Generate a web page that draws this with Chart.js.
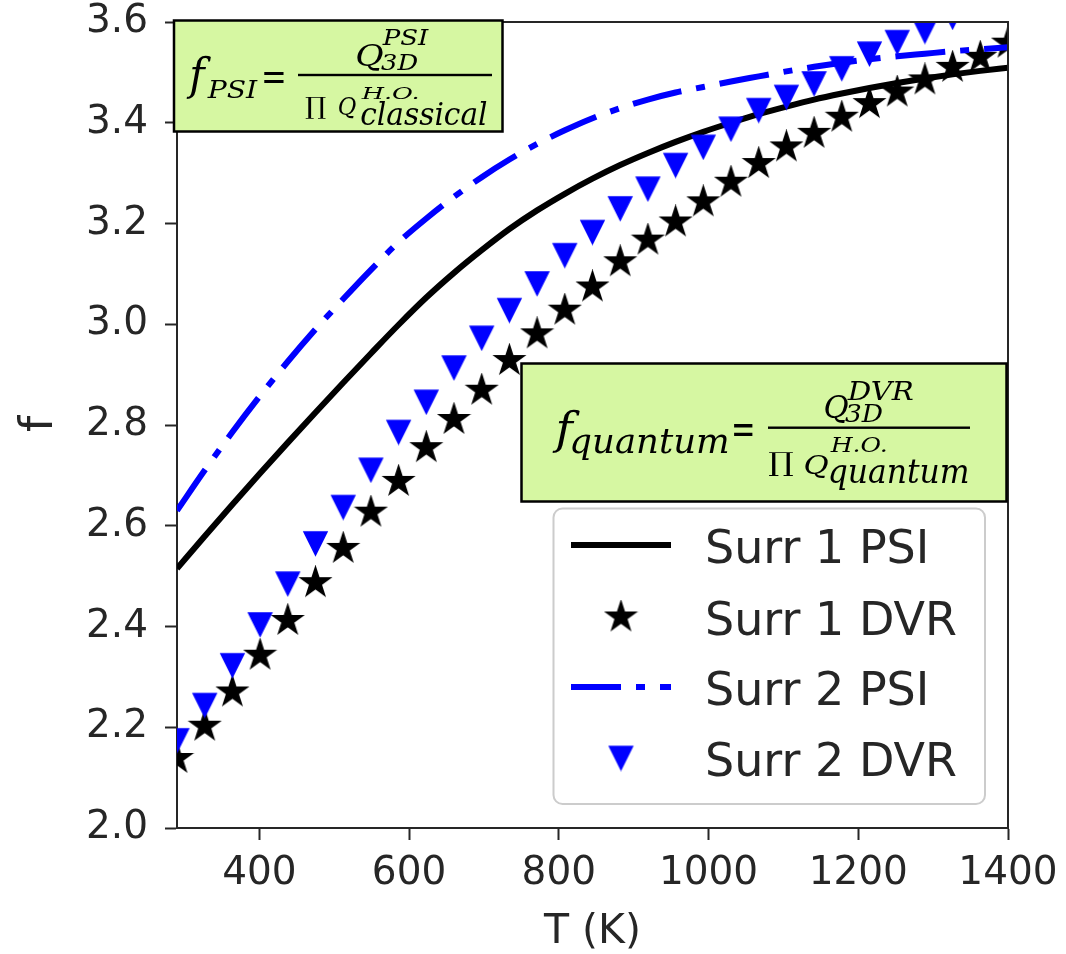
<!DOCTYPE html>
<html>
<head>
<meta charset="utf-8">
<title>f vs T</title>
<script src="https://cdn.jsdelivr.net/npm/chart.js@4"></script>
<style>
  html, body { margin: 0; padding: 0; background: #fff; }
</style>
</head>
<body>
<canvas id="myChart" width="1066" height="954"></canvas>
<script>
// temperatures (K)
const T = [290, 327, 364, 401, 438, 475, 512, 549, 586, 623, 660, 697, 734, 771, 808, 845,
           882, 919, 956, 993, 1030, 1067, 1104, 1141, 1178, 1215, 1252, 1289, 1326, 1363, 1400];

const surr1Psi = [2.515, 2.579, 2.642, 2.704, 2.765, 2.825, 2.884, 2.942, 2.999, 3.053, 3.102,
                  3.147, 3.189, 3.226, 3.259, 3.289, 3.316, 3.340, 3.362, 3.382, 3.400, 3.417,
                  3.432, 3.446, 3.458, 3.469, 3.479, 3.488, 3.496, 3.503, 3.509];
const surr1Dvr = [2.138, 2.202, 2.270, 2.343, 2.412, 2.487, 2.555, 2.627, 2.688, 2.755, 2.811,
                  2.869, 2.928, 2.981, 3.028, 3.074, 3.124, 3.167, 3.203, 3.243, 3.282, 3.319,
                  3.352, 3.379, 3.411, 3.438, 3.461, 3.485, 3.51, 3.53, 3.558];
const surr2Psi = [2.63, 2.71, 2.786, 2.858, 2.926, 2.99, 3.05, 3.108, 3.163, 3.21, 3.253,
                  3.292, 3.327, 3.358, 3.385, 3.409, 3.429, 3.446, 3.46, 3.471, 3.482, 3.492,
                  3.502, 3.511, 3.519, 3.526, 3.532, 3.537, 3.542, 3.546, 3.55];
const surr2Dvr = [2.174, 2.244, 2.323, 2.404, 2.485, 2.565, 2.637, 2.711, 2.786, 2.846, 2.914,
                  2.973, 3.028, 3.081, 3.137, 3.183, 3.23, 3.269, 3.316, 3.352, 3.388, 3.425,
                  3.451, 3.478, 3.508, 3.537, 3.56, 3.582, 3.61, 3.635, 3.655];

const seriesNames = ['Surr 1 PSI', 'Surr 1 DVR', 'Surr 2 PSI', 'Surr 2 DVR'];
const xTicks = [400, 600, 800, 1000, 1200, 1400];
const yTicks = [2.0, 2.2, 2.4, 2.6, 2.8, 3.0, 3.2, 3.4, 3.6];

const INK = '#262626';
const BLUE = '#0000ff';
const DASHDOT = [50, 15, 9, 15];

// filled 5-point star, like matplotlib's '*'
function makeStar(r, color) {
  const c = document.createElement('canvas');
  const s = Math.ceil(2 * r + 4);
  c.width = s; c.height = s;
  const g = c.getContext('2d');
  g.translate(s / 2, s / 2);
  g.beginPath();
  for (let k = 0; k < 10; k++) {
    const a = -Math.PI / 2 + k * Math.PI / 5;
    const rr = k % 2 ? r * 0.382 : r;
    g.lineTo(Math.cos(a) * rr, Math.sin(a) * rr);
  }
  g.closePath();
  g.fillStyle = color; g.fill();
  g.lineWidth = 1.5; g.strokeStyle = color; g.stroke();
  return c;
}

// downward triangle whose bounding box is centred on the point ('v')
function makeTriDown(h, color) {
  const c = document.createElement('canvas');
  const s = Math.ceil(2 * h + 4);
  c.width = s; c.height = s;
  const g = c.getContext('2d');
  g.translate(s / 2, s / 2);
  g.beginPath();
  g.moveTo(-h, -h); g.lineTo(h, -h); g.lineTo(0, h);
  g.closePath();
  g.fillStyle = color; g.fill();
  g.lineWidth = 1.5; g.strokeStyle = color; g.stroke();
  return c;
}

const starImg = makeStar(15.5, '#000');
const triImg = makeTriDown(11.5, BLUE);

const pts = arr => T.map((t, i) => ({ x: t, y: arr[i] }));

// draw text so its ink fills the given rectangle
function inkText(ctx, text, x0, y0, x1, y1, font) {
  ctx.save();
  ctx.font = font;
  ctx.textBaseline = 'alphabetic';
  ctx.textAlign = 'left';
  const m = ctx.measureText(text);
  const w = m.actualBoundingBoxLeft + m.actualBoundingBoxRight;
  const h = m.actualBoundingBoxAscent + m.actualBoundingBoxDescent;
  const sx = (x1 - x0) / w, sy = (y1 - y0) / h;
  ctx.translate(x0 + m.actualBoundingBoxLeft * sx, y0 + m.actualBoundingBoxAscent * sy);
  ctx.scale(sx, sy);
  ctx.fillStyle = '#000';
  ctx.fillText(text, 0, 0);
  ctx.restore();
}

const IT = 'italic 40px "DejaVu Serif"';
const RM = '40px "DejaVu Serif"';

function formulaBox(ctx, box, parts, bar) {
  ctx.save();
  ctx.fillStyle = '#d6f7a2';
  ctx.fillRect(box[0], box[1], box[2] - box[0], box[3] - box[1]);
  ctx.lineWidth = 2.5;
  ctx.strokeStyle = '#000';
  ctx.strokeRect(box[0], box[1], box[2] - box[0], box[3] - box[1]);
  ctx.fillStyle = '#000';
  ctx.fillRect(bar[0], bar[2] - 1.2, bar[1] - bar[0], 2.4);
  ctx.restore();
  parts.forEach(p => inkText(ctx, p[0], p[1], p[2], p[3], p[4], p[5] || IT));
}

const overlay = {
  id: 'overlay',
  afterDatasetsDraw(chart) {
    const { ctx, chartArea: a } = chart;

    // remaining spines
    ctx.save();
    ctx.strokeStyle = INK;
    ctx.lineWidth = 2;
    ctx.beginPath();
    ctx.moveTo(a.left, a.top); ctx.lineTo(a.right, a.top); ctx.lineTo(a.right, a.bottom);
    ctx.stroke();
    ctx.restore();

    formulaBox(ctx, [174, 20.5, 502.5, 131.5], [
      ['f', 186, 58, 211, 99],
      ['PSI', 207, 81, 258, 99],
      ['=', 264, 72, 284, 83, RM],
      ['Q', 357, 43, 383, 70],
      ['PSI', 382, 29, 429, 46],
      ['3D', 381, 54, 418, 71],
      ['\u220F', 306, 97, 326, 119, RM],
      ['Q', 339, 97, 356, 119],
      ['H.O.', 361, 86, 418, 99],
      ['classical', 361, 101, 487, 126]
    ], [298, 492, 75]);

    formulaBox(ctx, [521.5, 363.5, 1006.5, 501.5], [
      ['f', 552, 411, 580, 453],
      ['quantum', 572, 429, 728, 460],
      ['=', 734, 424, 753, 436, RM],
      ['Q', 825, 394, 848, 423],
      ['DVR', 847, 381, 913, 400],
      ['3D', 845, 404, 883, 423],
      ['\u220F', 769, 452, 793, 476, RM],
      ['Q', 805, 454, 828, 478],
      ['H.O.', 830, 437, 886, 453],
      ['quantum', 830, 460, 968, 490]
    ], [768, 970, 427.7]);

    // legend
    ctx.save();
    const L = 553.5, Tp = 508.5, W = 431.5, H = 295.5, R = 9;
    ctx.beginPath();
    ctx.roundRect(L, Tp, W, H, R);
    ctx.fillStyle = 'rgba(255,255,255,0.8)';
    ctx.fill();
    ctx.strokeStyle = '#cccccc';
    ctx.lineWidth = 2;
    ctx.stroke();

    const rows = [545, 617, 687, 758];
    const hx0 = 571, hx1 = 671, hc = 621;
    ctx.lineWidth = 6;
    ctx.strokeStyle = '#000';
    ctx.lineCap = 'butt';
    ctx.beginPath(); ctx.moveTo(hx0, rows[0]); ctx.lineTo(hx1, rows[0]); ctx.stroke();
    ctx.drawImage(starImg, hc - starImg.width / 2, rows[1] - starImg.height / 2);
    ctx.strokeStyle = BLUE;
    ctx.setLineDash(DASHDOT);
    ctx.beginPath(); ctx.moveTo(hx0, rows[2]); ctx.lineTo(hx1, rows[2]); ctx.stroke();
    ctx.setLineDash([]);
    ctx.drawImage(triImg, hc - triImg.width / 2, rows[3] - triImg.height / 2);

    ctx.fillStyle = INK;
    ctx.font = '46px "DejaVu Sans"';
    ctx.textBaseline = 'alphabetic';
    seriesNames.forEach((n, i) => ctx.fillText(n, 705, rows[i] + 18));
    ctx.restore();

    // axis titles
    ctx.save();
    ctx.fillStyle = INK;
    ctx.font = '41px "DejaVu Sans"';
    ctx.textAlign = 'center';
    ctx.textBaseline = 'alphabetic';
    ctx.fillText('T (K)', (a.left + a.right) / 2, 943);
    ctx.font = '46px "DejaVu Sans"';
    ctx.translate(52, 424);
    ctx.rotate(-Math.PI / 2);
    ctx.fillText('f', 0, 0);
    ctx.restore();
  }
};

const ctx = document.getElementById('myChart').getContext('2d');

new Chart(ctx, {
  type: 'scatter',
  data: {
    datasets: [{
      label: seriesNames[0],
      data: pts(surr1Psi),
      showLine: true,
      borderColor: '#000',
      borderWidth: 6,
      pointRadius: 0,
      cubicInterpolationMode: 'monotone',
      clip: 0,
      order: 4
    }, {
      label: seriesNames[1],
      data: pts(surr1Dvr),
      showLine: false,
      pointStyle: starImg,
      pointRadius: 12,
      clip: 0,
      order: 3
    }, {
      label: seriesNames[2],
      data: pts(surr2Psi),
      showLine: true,
      borderColor: BLUE,
      borderWidth: 6,
      borderDash: DASHDOT,
      borderCapStyle: 'butt',
      pointRadius: 0,
      cubicInterpolationMode: 'monotone',
      clip: 0,
      order: 2
    }, {
      label: seriesNames[3],
      data: pts(surr2Dvr),
      showLine: false,
      pointStyle: triImg,
      pointRadius: 12,
      clip: 0,
      order: 1
    }]
  },
  options: {
    responsive: false,
    animation: false,
    events: [],
    layout: { padding: { top: 22, right: 58, left: 0, bottom: 0 } },
    plugins: { legend: { display: false }, tooltip: { enabled: false } },
    scales: {
      x: {
        type: 'linear',
        min: 290,
        max: 1400,
        afterBuildTicks: s => { s.ticks = xTicks.map(v => ({ value: v })); },
        afterFit: s => { s.height = 126; s.paddingLeft = 0; s.paddingRight = 0; },
        ticks: {
          callback: v => String(v),
          font: { family: 'DejaVu Sans', size: 39, lineHeight: 1 },
          color: INK,
          padding: 14,
          maxRotation: 0,
          autoSkip: false
        },
        grid: { drawOnChartArea: false, tickLength: 12, tickWidth: 2, tickColor: INK },
        border: { color: INK, width: 2 }
      },
      y: {
        type: 'linear',
        min: 2.0,
        max: 3.6,
        afterBuildTicks: s => { s.ticks = yTicks.map(v => ({ value: v })); },
        afterFit: s => { s.width = 177; s.paddingTop = 0; s.paddingBottom = 0; },
        ticks: {
          callback: v => v.toFixed(1),
          font: { family: 'DejaVu Sans', size: 39, lineHeight: 1 },
          color: INK,
          padding: 17,
          autoSkip: false
        },
        grid: { drawOnChartArea: false, tickLength: 12, tickWidth: 2, tickColor: INK },
        border: { color: INK, width: 2 }
      }
    }
  },
  plugins: [overlay]
});
</script>
</body>
</html>
